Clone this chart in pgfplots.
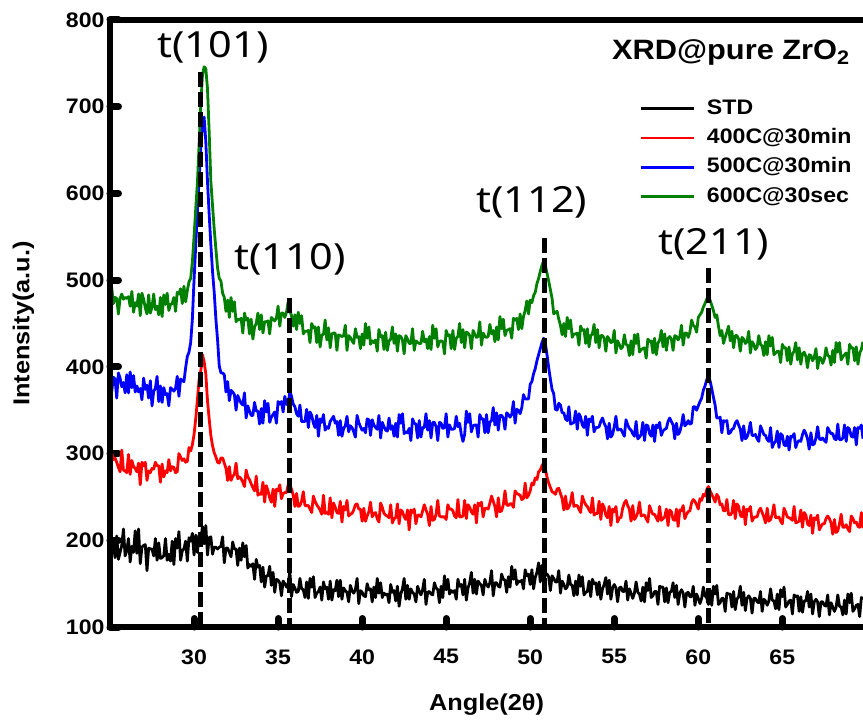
\documentclass[border=0pt]{standalone}
\usepackage{pgfplots}
\pgfplotsset{compat=1.18}
\usepackage{pgfplotstable}
\usepackage{fontspec}
\setmainfont{Liberation Sans}[FakeStretch=1.1]
\newfontfamily\annfont{Noto Sans}[FakeStretch=1.15]
\definecolor{xgreen}{RGB}{0,128,0}

% x = 2theta, then STD, 400C@30min, 500C@30min, 600C@30sec
\pgfplotstableread{
x std a400 b500 c600
25.0 203 282 397 482
25.1 194 301 371 492
25.2 197 293 388 473
25.3 180 295 386 480
25.4 205 290 364 479
25.5 178 284 393 461
25.6 186 279 387 479
25.7 194 304 377 484
25.8 213 281 382 478
25.9 182 280 370 480
26.0 188 278 391 479
26.1 202 299 370 481
26.2 175 276 394 470
26.3 193 292 376 487
26.4 186 285 390 463
26.5 211 283 371 474
26.6 185 279 378 470
26.7 213 289 371 484
26.8 173 264 375 459
26.9 192 290 362 485
27.0 194 286 387 478
27.1 195 290 374 468
27.2 165 269 379 461
27.3 191 280 364 483
27.4 190 278 384 462
27.5 190 283 355 469
27.6 182 282 372 484
27.7 202 290 375 466
27.8 177 286 389 470
27.9 197 286 360 460
28.0 179 267 378 480
28.1 180 288 359 458
28.2 182 273 376 483
28.3 202 280 368 472
28.4 177 278 369 485
28.5 184 293 355 465
28.6 176 280 376 472
28.7 199 285 374 473
28.8 172 284 372 480
28.9 202 278 375 464
29.0 191 279 389 486
29.1 210 300 366 484
29.2 177 296 386 490
29.3 188 292 384 473
29.4 190 294 383 493
29.5 199 290 399 475
29.6 176 291 412 488
29.7 203 307 417 498
29.8 199 303 428 502
29.9 208 310 455 521
30.0 183 322 500 550
30.1 206 340 540 582
30.2 186 362 580 612
30.3 206 385 615 656
30.4 199 395 651 702
30.5 216 414 680 736
30.6 196 406 688 746
30.7 217 392 660 744
30.8 183 361 614 721
30.9 203 340 576 671
31.0 204 321 541 614
31.1 184 309 510 586
31.2 192 301 486 559
31.3 192 296 455 536
31.4 190 290 431 514
31.5 192 289 401 502
31.6 193 295 393 499
31.7 204 295 393 485
31.8 174 289 391 480
31.9 191 283 371 464
32.0 191 269 383 477
32.1 186 285 361 457
32.2 181 269 373 480
32.3 198 274 371 464
32.4 190 276 368 475
32.5 190 289 350 452
32.6 171 271 367 455
32.7 191 273 362 454
32.8 177 271 358 456
32.9 197 267 356 439
33.0 181 262 370 462
33.1 194 281 341 454
33.2 168 273 355 456
33.3 172 270 349 438
33.4 170 265 344 455
33.5 173 261 344 432
33.6 155 257 359 446
33.7 178 274 349 450
33.8 169 252 349 462
33.9 171 254 334 443
34.0 152 253 352 460
34.1 169 267 335 439
34.2 146 244 361 452
34.3 159 263 348 452
34.4 159 257 358 453
34.5 170 249 336 438
34.6 148 244 342 457
34.7 163 259 345 455
34.8 140 239 348 453
34.9 155 259 335 456
35.0 154 257 360 470
35.1 151 264 357 447
35.2 136 248 360 462
35.3 153 254 348 462
35.4 150 255 366 457
35.5 146 255 357 463
35.6 150 264 356 475
35.7 164 264 372 465
35.8 135 259 366 459
35.9 149 252 357 447
36.0 145 239 354 460
36.1 140 254 346 443
36.2 141 239 343 463
36.3 156 240 356 450
36.4 144 245 337 459
36.5 143 256 337 438
36.6 134 240 337 441
36.7 152 240 351 441
36.8 133 240 330 442
36.9 156 236 348 428
37.0 146 232 344 450
37.1 158 251 335 445
37.2 134 245 330 446
37.3 139 241 344 428
37.4 141 238 320 446
37.5 146 235 340 423
37.6 131 230 336 437
37.7 152 252 345 437
37.8 144 231 327 454
37.9 146 232 331 431
38.0 132 230 329 445
38.1 153 249 337 422
38.2 131 226 340 438
38.3 143 243 343 439
38.4 142 238 335 439
38.5 154 232 337 419
38.6 135 231 321 437
38.7 154 245 338 436
38.8 132 221 320 435
38.9 145 239 329 436
39.0 142 235 332 448
39.1 140 246 343 419
39.2 129 228 325 436
39.3 148 230 332 434
39.4 142 231 330 430
39.5 139 235 325 427
39.6 143 241 319 444
39.7 156 242 344 434
39.8 127 236 336 435
39.9 142 236 331 421
40.0 140 222 327 438
40.1 136 237 329 425
40.2 135 222 324 450
40.3 150 228 340 433
40.4 143 233 339 446
40.5 144 244 321 426
40.6 129 227 339 430
40.7 146 231 333 428
40.8 134 232 330 431
40.9 156 225 328 418
41.0 139 221 344 443
41.1 151 243 318 435
41.2 134 238 336 436
41.3 139 231 331 420
41.4 137 229 327 440
41.5 138 228 326 419
41.6 128 226 341 430
41.7 149 241 328 432
41.8 140 220 332 446
41.9 142 225 320 427
42.0 130 226 335 438
42.1 147 242 319 418
42.2 124 219 345 436
42.3 138 235 335 435
42.4 144 233 346 431
42.5 156 227 323 415
42.6 132 224 325 436
42.7 148 235 324 432
42.8 132 212 329 427
42.9 144 235 315 427
43.0 140 232 340 444
43.1 138 236 335 419
43.2 129 219 334 430
43.3 147 229 318 428
43.4 141 229 338 427
43.5 137 227 319 427
43.6 143 234 330 441
43.7 155 241 330 429
43.8 126 235 346 432
43.9 140 230 327 421
44.0 141 217 338 435
44.1 138 239 318 420
44.2 137 223 336 448
44.3 151 224 336 433
44.4 145 230 331 444
44.5 143 246 315 423
44.6 128 228 336 429
44.7 147 227 335 430
44.8 134 227 329 429
44.9 159 227 330 415
45.0 143 224 346 442
45.1 155 241 319 436
45.2 138 236 333 437
45.3 142 236 328 421
45.4 140 234 328 442
45.5 142 228 329 420
45.6 132 226 343 433
45.7 155 247 331 435
45.8 147 227 335 450
45.9 149 227 322 428
46.0 137 228 314 443
46.1 155 246 322 422
46.2 131 225 349 440
46.3 145 241 336 439
46.4 151 238 346 436
46.5 163 233 325 421
46.6 139 230 332 442
46.7 155 241 333 438
46.8 138 220 333 434
46.9 153 243 319 435
47.0 150 240 345 452
47.1 148 244 340 425
47.2 137 227 340 439
47.3 155 237 324 435
47.4 149 237 345 434
47.5 146 236 324 435
47.6 151 243 336 449
47.7 165 251 338 438
47.8 136 245 353 442
47.9 151 239 333 429
48.0 151 227 347 446
48.1 147 249 327 431
48.2 146 233 344 458
48.3 161 234 344 444
48.4 155 241 341 455
48.5 154 257 328 436
48.6 140 241 347 442
48.7 158 240 345 443
48.8 146 242 342 444
48.9 170 242 345 433
49.0 155 238 360 456
49.1 166 257 335 454
49.2 149 254 351 456
49.3 153 253 350 443
49.4 152 252 346 461
49.5 154 247 353 444
49.6 144 248 368 458
49.7 166 266 363 465
49.8 159 249 363 476
49.9 161 252 363 461
50.0 149 257 380 477
50.1 166 266 383 474
50.2 144 264 392 482
50.3 157 272 398 486
50.4 163 270 407 496
50.5 174 279 414 502
50.6 152 281 421 510
50.7 171 286 428 517
50.8 150 289 433 522
50.9 162 282 427 517
51.0 161 273 414 508
51.1 158 266 399 499
51.2 142 261 386 489
51.3 159 256 374 479
51.4 156 255 369 461
51.5 152 253 351 463
51.6 152 259 350 464
51.7 165 260 358 455
51.8 139 254 356 448
51.9 153 248 347 437
52.0 149 235 347 450
52.1 144 251 340 435
52.2 146 236 338 457
52.3 160 238 354 444
52.4 149 244 334 454
52.5 148 255 335 434
52.6 136 239 336 438
52.7 153 240 349 438
52.8 137 240 328 439
52.9 160 236 346 425
53.0 147 232 342 447
53.1 158 251 333 442
53.2 137 245 330 443
53.3 140 241 343 427
53.4 141 239 321 444
53.5 153 235 340 423
53.6 135 232 337 436
53.7 155 249 343 438
53.8 150 229 325 449
53.9 151 231 330 428
54.0 137 231 330 443
54.1 152 245 331 422
54.2 132 224 337 436
54.3 144 242 341 436
54.4 149 238 335 433
54.5 157 229 331 418
54.6 138 226 317 435
54.7 154 239 335 432
54.8 132 217 319 428
54.9 145 236 322 429
55.0 149 233 331 442
55.1 145 239 343 416
55.2 129 221 327 430
55.3 145 226 328 426
55.4 146 226 328 421
55.5 141 237 324 423
55.6 141 243 320 437
55.7 153 246 339 426
55.8 131 240 333 425
55.9 144 236 329 413
56.0 139 222 327 430
56.1 133 240 323 414
56.2 139 224 320 437
56.3 152 227 337 427
56.4 140 232 317 438
56.5 138 244 319 417
56.6 130 228 322 420
56.7 146 229 336 421
56.8 129 229 315 422
56.9 151 225 333 410
57.0 142 221 332 432
57.1 156 240 323 429
57.2 134 234 320 430
57.3 136 230 333 416
57.4 141 230 314 433
57.5 141 226 333 414
57.6 126 222 330 427
57.7 147 239 336 431
57.8 146 223 321 442
57.9 146 225 326 423
58.0 129 227 328 438
58.1 145 236 329 419
58.2 128 217 337 433
58.3 140 235 341 435
58.4 141 233 337 432
58.5 151 224 333 419
58.6 134 223 317 436
58.7 148 236 335 435
58.8 126 216 322 431
58.9 139 235 325 435
59.0 143 234 333 448
59.1 139 240 345 425
59.2 123 225 332 439
59.3 139 230 334 439
59.4 140 233 338 434
59.5 135 234 334 440
59.6 135 243 335 454
59.7 147 247 354 448
59.8 125 245 354 446
59.9 138 241 350 440
60.0 133 236 355 457
60.1 127 248 360 460
60.2 133 246 364 463
60.3 146 253 373 469
60.4 136 251 378 473
60.5 134 258 385 478
60.6 126 262 389 482
60.7 142 257 384 477
60.8 125 253 375 471
60.9 147 249 365 465
61.0 138 244 356 457
61.1 148 253 341 460
61.2 126 250 341 447
61.3 128 241 342 436
61.4 133 242 324 442
61.5 133 234 338 427
61.6 118 234 337 434
61.7 139 247 338 440
61.8 138 230 323 447
61.9 138 229 324 430
62.0 123 232 328 441
62.1 141 246 329 422
62.2 120 225 335 436
62.3 132 242 338 436
62.4 135 239 333 432
62.5 147 229 328 418
62.6 125 227 315 434
62.7 140 239 332 432
62.8 119 218 317 427
62.9 133 236 319 429
63.0 136 234 325 441
63.1 133 239 336 416
63.2 116 222 321 429
63.3 133 226 321 426
63.4 133 227 322 420
63.5 129 227 317 423
63.6 128 234 314 436
63.7 141 237 332 426
63.8 118 232 327 424
63.9 132 227 322 413
64.0 130 220 321 429
64.1 125 237 316 414
64.2 130 222 314 436
64.3 144 224 330 424
64.4 131 230 307 434
64.5 130 241 312 414
64.6 121 226 314 416
64.7 138 226 326 418
64.8 120 227 307 418
64.9 143 222 323 405
65.0 135 219 321 426
65.1 146 237 310 422
65.2 123 232 309 422
65.3 126 227 320 407
65.4 130 226 304 423
65.5 131 225 320 403
65.6 115 223 319 415
65.7 137 239 323 418
65.8 135 220 307 428
65.9 136 221 313 408
66.0 118 222 315 422
66.1 135 235 314 403
66.2 117 215 322 415
66.3 130 232 327 417
66.4 130 229 323 412
66.5 141 219 317 399
66.6 123 217 305 414
66.7 138 229 324 413
66.8 115 208 310 407
66.9 129 226 311 411
67.0 132 224 318 421
67.1 129 229 331 398
67.2 112 212 317 411
67.3 129 216 316 410
67.4 129 219 318 404
67.5 125 219 315 409
67.6 124 225 313 422
67.7 137 228 330 413
67.8 114 225 326 412
67.9 128 220 323 402
68.0 123 207 323 419
68.1 118 224 317 405
68.2 123 209 316 428
68.3 137 211 334 417
68.4 124 219 316 428
68.5 123 230 316 408
68.6 114 215 318 412
68.7 131 215 333 414
68.8 115 218 314 416
68.9 138 213 330 403
69.0 128 210 328 426
69.1 139 228 320 422
69.2 118 225 319 422
69.3 121 220 330 407
69.4 125 221 310 423
69.5 126 216 330 403
69.6 112 215 329 416
69.7 134 232 333 420
69.8 132 214 317 429
}\xrd

\begin{document}
\begin{tikzpicture}
\begin{axis}[
    scale only axis,
    width=753pt, height=607pt,
    xmin=25, xmax=69.8,
    ymin=100, ymax=800,
    axis x line=box, axis y line=left,
    axis line style={black, -},
    xtick={30,35,...,65},
    ytick={100,200,...,800},
    xtick pos=bottom, ytick pos=left,
    tick align=inside,
    major tick length=8.5pt,
    tick style={black, line width=7pt, line cap=round},
    major tick style={black, line width=7pt, line cap=round},
    /pgf/number format/assume math mode=true,
    tick label style={font=\fontsize{21}{25}\selectfont\bfseries},
    xticklabel style={yshift=-19pt},
    yticklabel style={xshift=-2pt},
    xlabel={Angle(2θ)},
    ylabel={Intensity(a.u.)},
    label style={font=\fontsize{23}{27}\selectfont\bfseries},
    xlabel style={at={(axis description cs:0.5,-0.1285)}, anchor=center},
    ylabel style={at={(axis description cs:-0.115,0.5)}, anchor=center},
    legend style={draw=none, fill=none,
        at={(0.7025,0.873)}, anchor=north west,
        font=\fontsize{21}{25}\selectfont\bfseries,
        row sep=6.3pt, inner sep=0pt,
        nodes={inner sep=1pt, text height=16pt, text depth=5pt},
        /tikz/every odd column/.append style={column sep=11pt}},
    legend cell align=left,
    legend image code/.code={\draw[#1, line width=2.8pt] (0pt,0pt) -- (53pt,0pt);},
    every axis plot/.append style={line width=2.8pt, line join=round},
]
\addplot[black] table[x=x, y=std] {\xrd};
\addlegendentry{STD}
\addplot[red] table[x=x, y=a400] {\xrd};
\addlegendentry{400C@30min}
\addplot[blue] table[x=x, y=b500] {\xrd};
\addlegendentry{500C@30min}
\addplot[xgreen] table[x=x, y=c600] {\xrd};
\addlegendentry{600C@30sec}

% peak markers
\addplot[forget plot, black, line width=5pt, dash pattern=on 15pt off 5pt] coordinates {(30.41,740) (30.41,100)};
\addplot[forget plot, black, line width=5pt, dash pattern=on 15pt off 5pt] coordinates {(35.65,479) (35.65,100)};
\addplot[forget plot, black, line width=5pt, dash pattern=on 15pt off 5pt] coordinates {(50.88,549) (50.88,100)};
\addplot[forget plot, black, line width=5pt, dash pattern=on 15pt off 5pt] coordinates {(60.63,514) (60.63,100)};

\node[font=\annfont\fontsize{36}{40}\selectfont, anchor=base] at (axis cs:31.13,757) {t(101)};
\node[font=\annfont\fontsize{36}{40}\selectfont, anchor=base] at (axis cs:35.71,512) {t(110)};
\node[font=\annfont\fontsize{36}{40}\selectfont, anchor=base] at (axis cs:50.10,578) {t(112)};
\node[font=\annfont\fontsize{36}{40}\selectfont, anchor=base] at (axis cs:60.93,529) {t(211)};
\node[font=\fontsize{28}{32}\selectfont\bfseries, anchor=base west, inner sep=0pt] at (axis cs:54.86,755) {XRD@pure ZrO\textsubscript{2}};

\coordinate (sw) at (rel axis cs:0,0);
\coordinate (ne) at (rel axis cs:1,1);
\end{axis}
% heavy frame: top, left and bottom sides
\draw[line width=6pt, line join=miter] (ne) -- (sw |- ne) -- (sw) -- (sw -| ne);
\pgfresetboundingbox
\path ([xshift=-110pt,yshift=-93pt]sw) rectangle ([yshift=20pt]ne);
\end{tikzpicture}
\end{document}
